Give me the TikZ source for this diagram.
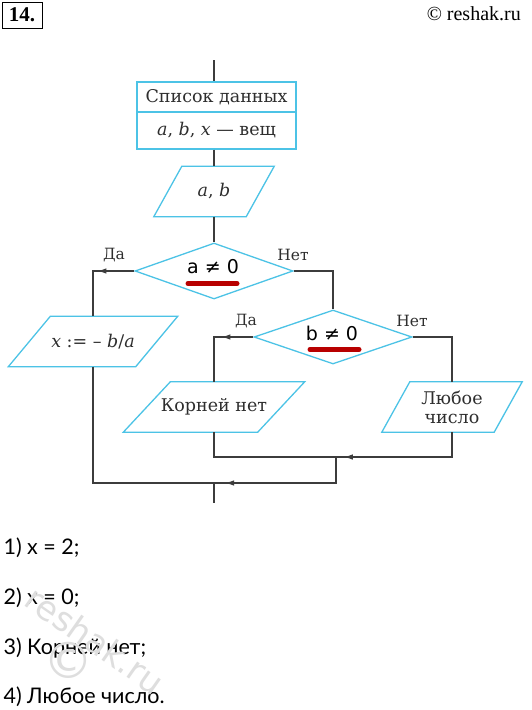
\documentclass[tikz,border=0pt]{standalone}
\usepackage{fontspec}
\setmainfont{DejaVu Serif}
\newfontfamily\ansfont{Lato}
\newfontfamily\condsans{DejaVu Sans}
\newfontfamily\timesf{Liberation Serif}
\usetikzlibrary{calc,decorations.markings,arrows.meta,shapes.geometric}
\definecolor{fcblue}{HTML}{4CC3E6}
\definecolor{lncol}{HTML}{3C3C3C}
\definecolor{ulred}{HTML}{B80000}
\definecolor{txcol}{HTML}{2E2E2E}
\newcommand\mypara[2]{%
  \draw[blk] ($(#1.north west)+(#2,0)$) -- ($(#1.north east)+(#2,0)$) --
    ($(#1.south east)+(-#2,0)$) -- ($(#1.south west)+(-#2,0)$) -- cycle;}
\begin{document}
\begin{tikzpicture}[x=1pt,y=-1pt,
  blk/.style={draw=fcblue,line width=1.3pt},
  conn/.style={draw=lncol,line width=1.4pt},
  paranode/.style={minimum width=#1,minimum height=50,inner sep=0,
    font=\fontsize{17.5}{20}\selectfont,text=txcol,align=center},
  dia/.style={diamond,blk,minimum width=158,minimum height=#1,inner sep=0},
  yesno/.style={font=\fontsize{15.5}{18}\selectfont,text=txcol},
  cond/.style={font=\condsans\fontsize{19}{22}\selectfont},
  ulline/.style={draw=ulred,line width=5pt,line cap=round},
  arrmark/.style={postaction={decorate},decoration={markings,
    mark=at position #1 with {\arrow{Latex[length=9pt,width=5.5pt]}}}},
  ans/.style={anchor=west,font=\ansfont\fontsize{21.5}{24}\selectfont}]
\useasboundingbox (0,0) rectangle (531,710);
\fill[white] (0,0) rectangle (531,710);

% header
\node[draw=black,line width=1pt,minimum width=40,minimum height=26,inner sep=0,
  font=\timesf\bfseries\fontsize{21}{24}\selectfont] (num) at (22,15) {14.};
\node[anchor=east,font=\timesf\fontsize{20}{24}\selectfont,inner sep=0] (copy) at (521,14) {© reshak.ru};

% data list
\coordinate (start) at (214,60);
\node[blk,minimum width=159,minimum height=30,inner sep=0,
  font=\fontsize{17.5}{20}\selectfont,text=txcol] (d1) at (216.5,97) {Список данных};
\node[blk,minimum width=159,minimum height=37,inner sep=0,
  font=\fontsize{17.5}{20}\selectfont,text=txcol] (d2) at (216.5,130.5) {\textit{a}, \textit{b}, \textit{x} — вещ};

% input a,b
\node[paranode=92] (ab) at (214,191.5) {\textit{a}, \textit{b}};
\mypara{ab}{14}

% decision a
\node[dia=56] (da) at (214,271) {};
\node[cond] (ta) at (213,267) {a ≠ 0};
\draw[ulline] (188,283.5) -- (237,283.5);
\node[yesno] (yesa) at (114,255) {Да};
\node[yesno] (noa) at (293,255) {Нет};

% x := -b/a
\node[paranode=127] (xab) at (93,341.5) {\textit{x} := – \textit{b}/\textit{a}};
\mypara{xab}{21}

% decision b
\node[dia=54] (db) at (333,337) {};
\node[cond] (tb) at (332,333) {b ≠ 0};
\draw[ulline] (310,349.5) -- (359,349.5);
\node[yesno] (yesb) at (246,321) {Да};
\node[yesno] (nob) at (412,321) {Нет};

% outputs
\node[paranode=134] (kn) at (214,407) {Корней нет};
\mypara{kn}{23.5}
\node[paranode=112,font=\fontsize{17.5}{19}\selectfont] (lc) at (452,407) {Любое\\число};
\mypara{lc}{14}

\coordinate (m1) at (336,457);
\coordinate (m2) at (214,483);
\coordinate (fin) at (214,503);

% connectors
\draw[conn] (start) -- (start |- d1.north);
\draw[conn] (d2.south -| ab.north) -- (ab.north);
\draw[conn] (ab.south) -- (da.north);
\draw[conn,arrmark=37pt] (da.west) -| (xab.north);
\draw[conn] (da.east) -| (db.north);
\draw[conn,arrmark=32pt] (db.west) -| (kn.north);
\draw[conn] (db.east) -| (lc.north);
\draw[conn] (kn.south) |- (m1);
\draw[conn,arrmark=133pt] (lc.south) |- (m1);
\draw[conn,arrmark=137pt] (m1) |- (m2);
\draw[conn] (xab.south) |- (m2);
\draw[conn] (m2) -- (fin);

% answers
\node[ans] (a1) at (0,548) {1) x = 2;};
\node[ans] (a2) at (0,598) {2) x = 0;};
\node[ans] (a3) at (0,648) {3) Корней нет;};
\node[ans] (a4) at (0,697) {4) Любое число.};

% watermark
\node[text=black!13,rotate=-35,font=\condsans\fontsize{34}{36}\selectfont] (wm) at (95,640) {reshak.ru};
\node[text=black!13,font=\condsans\fontsize{50}{50}\selectfont] (wmc) at (68,660) {©};
\end{tikzpicture}
\end{document}
